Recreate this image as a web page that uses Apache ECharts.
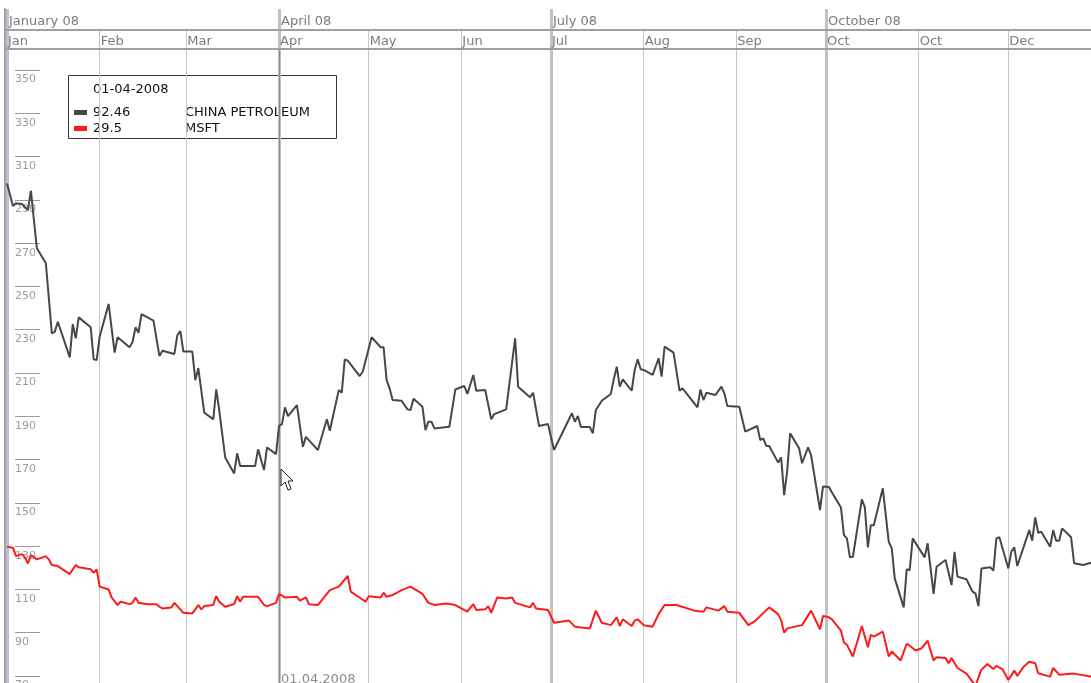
<!DOCTYPE html>
<html>
<head>
<meta charset="utf-8">
<script src="https://cdn.jsdelivr.net/npm/echarts@6/dist/echarts.min.js"></script>
<style>
  html, body { margin: 0; padding: 0; background: #ffffff; overflow: hidden; }
  /* the year runs a few pixels past the right edge of the window */
  #chart { width: 1098px; height: 683px; }
</style>
</head>
<body>
<div id="chart"></div>
<script>
// ---- axis text ----
const YEAR = 2008;
const monthLabels = ['Jan', 'Feb', 'Mar', 'Apr', 'May', 'Jun', 'Jul', 'Aug', 'Sep', 'Oct', 'Oct', 'Dec'];
const quarterLabels = ['January 08', 'April 08', 'July 08', 'October 08'];
const yMin = 70;
const yMax = 350;
const yStep = 20;

// ---- CHINA PETROLEUM: day of year (0 = 1 Jan) and value ----
const cpDay = [0,2,3,5,7,8,9,10,13,15,16,17,21,22,23,24,28,29,30,31,34,36,37,41,42,43,44,45,49,51,52,56,57,58,59,62,63,64,66,69,70,71,73,76,77,78,83,84,86,87,90,91,92,93,94,97,99,100,104,107,108,111,112,113,114,118,119,122,125,126,127,128,129,132,134,135,136,139,140,141,142,143,148,150,153,154,156,157,160,162,163,167,170,171,175,176,178,181,183,189,190,191,192,195,196,197,199,202,203,204,205,206,209,210,211,212,213,216,218,219,220,223,225,226,231,232,233,234,237,239,240,241,245,247,251,252,253,254,255,258,259,260,261,262,265,266,268,269,272,273,275,276,279,280,281,282,283,286,287,288,289,290,293,295,296,297,300,301,302,303,307,308,310,311,314,316,317,318,321,323,324,325,326,329,330,331,332,335,336,337,338,342,343,344,345,346,349,350,351,352,353,356,357,360,363,365];
const cpVal = [297.6,287.2,288.4,288.1,285.3,294.2,280.7,267.6,260.7,228.3,229.1,233.7,217.2,232.6,226.0,235.7,231.1,216.3,216.0,226.8,241.9,219.4,226.5,221.9,224.3,231.1,228.6,237.2,234.2,217.8,220.3,218.8,227.5,229.3,219.9,219.9,206.7,212.2,191.7,188.6,202.4,192.9,171.0,163.6,172.9,167.0,167.0,174.7,165.2,175.6,172.5,185.5,186.4,194.1,190.1,195.2,175.9,180.5,174.4,188.6,183.3,202.1,200.9,216.3,215.7,208.6,210.6,226.5,221.9,221.9,206.7,202.9,197.5,197.2,193.2,192.9,198.1,194.4,183.6,187.5,187.5,184.4,185.2,202.4,204.0,200.3,209.1,201.8,202.1,188.6,191.0,193.2,226.0,203.7,198.8,200.9,185.5,186.4,174.4,191.4,187.5,190.1,185.0,185.0,182.1,192.9,197.2,200.3,207.1,212.9,203.7,207.1,201.8,211.4,216.3,211.7,211.4,209.1,216.8,208.3,222.2,219.4,201.8,202.9,194.1,202.4,197.5,200.9,199.8,203.7,200.6,194.7,194.4,182.9,185.5,179.0,179.8,176.3,176.3,168.6,171.0,153.6,164.4,182.1,175.2,168.3,175.6,172.1,146.7,157.6,157.3,154.8,147.9,135.1,133.6,124.8,125.1,151.6,147.9,129.4,139.7,139.7,156.7,132.0,129.0,115.1,101.7,119.3,118.9,133.6,124.8,131.3,107.9,120.5,123.6,112.0,127.4,115.9,114.7,109.0,108.2,102.3,119.7,120.2,118.7,133.6,134.1,119.7,127.4,129.4,120.8,137.4,132.5,143.3,136.2,136.7,129.7,137.4,132.5,132.5,138.2,134.1,122.1,121.3,122.4,122.8];

// ---- MSFT: day of year and value ----
const msDay = [0,2,3,5,6,7,8,10,13,14,15,17,21,23,24,28,29,30,31,34,35,37,38,41,42,43,44,47,50,51,52,55,56,57,59,62,63,64,65,66,69,70,71,73,76,77,78,79,84,86,87,90,91,93,97,98,100,101,104,108,111,114,115,120,121,125,126,127,129,132,135,139,141,143,147,150,154,156,157,160,161,162,164,167,169,170,175,176,177,181,183,188,190,195,197,199,202,204,205,206,209,210,211,213,216,218,220,224,230,233,234,238,240,241,245,248,250,255,258,259,260,261,266,269,272,273,275,276,279,280,281,283,286,288,289,290,293,295,296,299,301,302,304,306,308,310,311,314,315,316,318,321,324,326,328,330,331,333,335,337,338,340,342,344,345,349,350,352,357,363,365];
const msVal = [129.7,129.3,125.4,126.3,124.8,122.0,125.9,123.9,125.4,123.9,121.3,120.8,117.1,121.3,120.2,119.3,117.7,119.3,111.3,110.0,106.3,102.8,104.3,103.2,103.8,106.3,103.8,103.2,103.2,102.0,101.2,101.7,103.8,102.3,99.2,98.9,100.8,102.8,100.8,102.3,102.8,106.9,104.3,102.0,103.2,106.9,104.3,106.6,106.6,102.8,102.3,103.8,107.9,106.3,106.6,104.8,106.3,103.2,102.8,109.7,111.3,116.2,109.0,104.3,106.9,106.3,108.5,106.6,107.4,109.7,111.3,107.9,103.8,102.8,103.5,102.8,99.7,103.2,100.5,100.8,102.3,99.2,106.3,105.8,106.3,103.8,101.7,103.8,101.2,100.5,94.6,95.6,92.8,92.0,100.2,94.6,93.5,97.1,93.1,96.2,93.1,95.6,96.2,93.5,92.8,98.6,102.8,102.8,100.2,99.7,101.7,100.2,102.3,99.7,99.2,93.5,95.1,101.7,98.6,95.6,90.0,92.0,93.5,100.2,91.6,97.7,97.1,96.2,91.0,85.5,84.4,79.0,93.1,83.3,89.0,88.2,90.5,79.0,81.3,77.2,84.9,84.0,81.8,82.8,86.3,77.2,78.7,78.3,75.9,78.3,73.7,71.1,65.5,72.9,75.6,73.2,74.7,73.2,68.2,72.5,70.0,74.1,76.6,75.9,71.3,69.7,73.7,70.6,71.1,69.7,69.9];

// ---- info box and crosshair ----
const infoDate = '01-04-2008';
const infoNames = ['CHINA PETROLEUM', 'MSFT'];
const infoValues = ['92.46', '29.5'];
const crossDate = '01.04.2008';
const crossDay = '2008-04-01';

const seriesColors = ['#474747', '#ff1a1a'];
const FONT = 'DejaVu Sans';

// one category per calendar day
const days = [];
for (let t = Date.UTC(YEAR, 0, 1); new Date(t).getUTCFullYear() === YEAR; t += 86400000) {
  days.push(new Date(t).toISOString().slice(0, 10));
}
const lastDay = days.length - 1;
const monthOf = (v) => parseInt(v.slice(5, 7), 10) - 1;
const isMonthStart = (i, v) => v.slice(8) === '01';
const isQuarterStart = (i, v) => v.slice(8) === '01' && monthOf(v) % 3 === 0;
const isCross = (i, v) => v === crossDay;

// shared horizontal placement of every grid; labels may run past the edges
const L = 7, W = 1091;
const gridBase = { left: L, width: W, outerBoundsMode: 'none', containLabel: false };

function dayAxis(grid, extra) {
  return Object.assign({
    type: 'category', gridIndex: grid, data: days, boundaryGap: false,
    axisLine: { show: false }, axisTick: { show: false },
    axisLabel: { show: false }, splitLine: { show: false }
  }, extra);
}
function blankY(grid, extra) {
  return Object.assign({
    type: 'value', gridIndex: grid, min: 0, max: 1,
    axisLine: { show: false }, axisTick: { show: false },
    axisLabel: { show: false }, splitLine: { show: false }
  }, extra);
}

const chart = echarts.init(document.getElementById('chart'), null, { renderer: 'canvas' });

chart.setOption({
  animation: false,
  backgroundColor: '#ffffff',
  grid: [
    Object.assign({ top: 9, height: 21 }, gridBase),   // 0 quarter header row
    Object.assign({ top: 31, height: 18 }, gridBase),  // 1 month header row
    Object.assign({ top: 31, bottom: 0 }, gridBase),   // 2 month dividers
    Object.assign({ top: 9, bottom: 0 }, gridBase),    // 3 quarter dividers + frame
    Object.assign({ top: 49, bottom: 0 }, gridBase),   // 4 crosshair
    Object.assign({ top: 70, height: 606 }, gridBase)  // 5 price lines
  ],
  xAxis: [
    // 0: top frame line and quarter titles
    dayAxis(0, {
      position: 'top',
      axisLine: { show: true, lineStyle: { color: '#a3b1c0', width: 2 } },
      axisLabel: {
        show: true, inside: true, interval: isQuarterStart, margin: 6,
        align: 'left', verticalAlign: 'top', padding: [0, 0, 0, 2],
        color: '#7b7b7b', fontFamily: FONT, fontSize: 13,
        formatter: (v) => quarterLabels[Math.floor(monthOf(v) / 3)]
      }
    }),
    // 1: line under the quarter row
    dayAxis(0, { position: 'bottom', axisLine: { show: true, lineStyle: { color: '#a0a0a0', width: 2 } } }),
    // 2: month titles
    dayAxis(1, {
      position: 'top',
      axisLabel: {
        show: true, inside: true, interval: isMonthStart, margin: 4,
        align: 'left', verticalAlign: 'top', padding: [0, 0, 0, 1],
        color: '#7b7b7b', fontFamily: FONT, fontSize: 13,
        formatter: (v) => monthLabels[monthOf(v)]
      }
    }),
    // 3: line under the month row
    dayAxis(1, { position: 'bottom', axisLine: { show: true, lineStyle: { color: '#a0a0a0', width: 2 } } }),
    // 4: month dividers
    dayAxis(2, { splitLine: { show: true, interval: isMonthStart, lineStyle: { color: '#c6c6c6', width: 1 } } }),
    // 5: quarter dividers
    dayAxis(3, { splitLine: { show: true, interval: isQuarterStart, lineStyle: { color: '#c2c2c2', width: 3 } } }),
    // 6: crosshair and its date
    dayAxis(4, {
      position: 'bottom',
      splitLine: { show: true, interval: isCross, lineStyle: { color: '#8a8a8a', width: 1 } },
      axisLabel: {
        show: true, inside: true, interval: isCross, margin: -3,
        align: 'left', verticalAlign: 'bottom', padding: [0, 0, 0, 2],
        color: '#8c8c8c', fontFamily: FONT, fontSize: 13,
        formatter: () => crossDate
      }
    }),
    // 7: price lines, by day of year
    { type: 'value', gridIndex: 5, min: 0, max: lastDay, show: false }
  ],
  yAxis: [
    blankY(0), blankY(1), blankY(2),
    blankY(3, { offset: 2, axisLine: { show: true, lineStyle: { color: '#95a4b5', width: 2 } } }),
    blankY(4),
    {
      type: 'value', gridIndex: 5, min: yMin, max: yMax, interval: yStep,
      offset: -8,
      axisLine: { show: false },
      axisTick: { show: true, inside: true, length: 25, lineStyle: { color: '#9c9c9c', width: 1 } },
      axisLabel: {
        show: true, inside: true, margin: 0, align: 'left', verticalAlign: 'top',
        padding: [4, 0, 0, 0], color: '#9c9c9c', fontFamily: FONT, fontSize: 11
      },
      splitLine: { show: false }
    }
  ],
  series: [
    {
      name: infoNames[0], type: 'line', xAxisIndex: 7, yAxisIndex: 5,
      data: cpDay.map((d, i) => [d, cpVal[i]]),
      symbol: 'none', clip: false,
      lineStyle: { color: seriesColors[0], width: 2 }
    },
    {
      name: infoNames[1], type: 'line', xAxisIndex: 7, yAxisIndex: 5,
      data: msDay.map((d, i) => [d, msVal[i]]),
      symbol: 'none', clip: false,
      lineStyle: { color: seriesColors[1], width: 2 }
    }
  ],
  graphic: [
    {
      type: 'group', left: 68, top: 75, z: 100,
      children: [
        { type: 'rect', shape: { x: 0.5, y: 0.5, width: 268, height: 63 },
          style: { fill: '#ffffff', stroke: '#333333', lineWidth: 1 } },
        { type: 'text', x: 25, y: 15,
          style: { text: infoDate, fill: '#111111', font: '13px "DejaVu Sans"', verticalAlign: 'middle' } },
        { type: 'rect', shape: { x: 6, y: 35, width: 13, height: 5 }, style: { fill: seriesColors[0] } },
        { type: 'text', x: 25, y: 38,
          style: { text: infoValues[0], fill: '#111111', font: '13px "DejaVu Sans"', verticalAlign: 'middle' } },
        { type: 'text', x: 117, y: 38,
          style: { text: infoNames[0], fill: '#111111', font: '13px "DejaVu Sans"', verticalAlign: 'middle' } },
        { type: 'rect', shape: { x: 6, y: 51, width: 13, height: 5 }, style: { fill: seriesColors[1] } },
        { type: 'text', x: 25, y: 54,
          style: { text: infoValues[1], fill: '#111111', font: '13px "DejaVu Sans"', verticalAlign: 'middle' } },
        { type: 'text', x: 117, y: 54,
          style: { text: infoNames[1], fill: '#111111', font: '13px "DejaVu Sans"', verticalAlign: 'middle' } }
      ]
    },
    {
      // mouse pointer resting on the crosshair
      type: 'polygon', x: 281, y: 469, z: 100,
      shape: { points: [[0, 0], [0, 17], [4, 13], [7, 21], [10, 20], [7, 12], [12, 12]] },
      style: { fill: '#ffffff', stroke: '#222222', lineWidth: 1 }
    }
  ]
});
</script>
</body>
</html>
